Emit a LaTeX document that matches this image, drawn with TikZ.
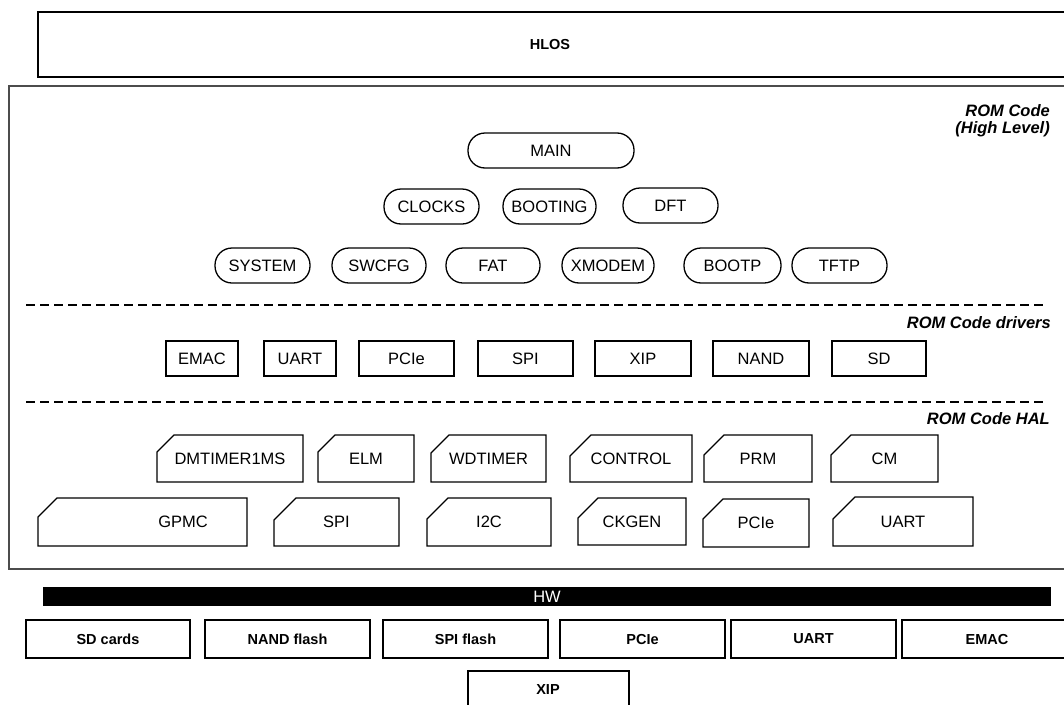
\documentclass[tikz,border=0pt]{standalone}
\usepackage{fontspec}
\setmainfont{Liberation Sans}
\begin{document}
\begin{tikzpicture}[x=1pt,y=-1pt,
  every node/.style={font=\fontsize{16.5}{18}\selectfont},
  txt/.style={inner sep=0pt},
  boldtxt/.style={inner sep=0pt,font=\fontsize{14.5}{16}\selectfont\bfseries},
  tagtxt/.style={inner sep=0pt,anchor=east,font=\fontsize{16.5}{18}\selectfont\bfseries\itshape},
  pill/.style={draw,line width=1.3pt,rounded corners=17pt,inner sep=0pt},
  drv/.style={draw,line width=1.3pt,inner sep=0pt},
  halline/.style={draw,line width=1.3pt},
  hwbox/.style={draw,line width=1.5pt,inner sep=0pt,font=\fontsize{14.5}{16}\selectfont\bfseries},
  sep/.style={line width=2pt,dash pattern=on 9pt off 5pt},
]
\clip (0,0) rectangle (1064,704);
\fill[white] (0,0) rectangle (1064,704);

\newcommand\pillbox[6]{\node[pill,minimum width={(#3-#2)*1pt},minimum height={(#5-#4)*1pt}] (#1) at ({(#2+#3)/2},{(#4+#5)/2}) {#6};}
\newcommand\drvbox[6]{\node[drv,minimum width={(#3-#2)*1pt},minimum height={(#5-#4)*1pt}] (#1) at ({(#2+#3)/2},{(#4+#5)/2}) {#6};}
\newcommand\hwb[6]{\node[hwbox,minimum width={(#3-#2)*1pt},minimum height={(#5-#4)*1pt}] (#1) at ({(#2+#3)/2},{(#4+#5)/2}) {#6};}
\newcommand\halbox[8]{%
  \draw[halline] (#2+#8,#4) -- (#3,#4) -- (#3,#5) -- (#2,#5) -- (#2,#4+#8) -- cycle;
  \node[txt] (#1) at (#6,{(#4+#5)/2}) {#7};}

% HLOS
\node[draw,line width=1.5pt,minimum width=1040pt,minimum height=65pt,inner sep=0pt] (hlos) at (558,44.5) {};
\node[boldtxt] (hlostxt) at (550,44.5) {HLOS};

% ROM code container
\node[draw=black!70,line width=1.6pt,minimum width=1070pt,minimum height=483pt,inner sep=0pt] (rom) at (544,327.5) {};
\node[tagtxt] (tag1) at (1050,111) {ROM Code};
\node[tagtxt] (tag2) at (1050,129) {(High Level)};

% High level
\pillbox{main}{468}{634}{133}{168}{MAIN}
\pillbox{clocks}{384}{479}{189}{224}{CLOCKS}
\pillbox{booting}{503}{596}{189}{224}{BOOTING}
\pillbox{dft}{623}{718}{188}{223}{DFT}
\pillbox{system}{215}{310}{248}{283}{SYSTEM}
\pillbox{swcfg}{332}{426}{248}{283}{SWCFG}
\pillbox{fat}{446}{540}{248}{283}{FAT}
\pillbox{xmodem}{562}{654}{248}{283}{XMODEM}
\pillbox{bootp}{684}{781}{248}{283}{BOOTP}
\pillbox{tftp}{792}{887}{248}{283}{TFTP}

% separator 1
\coordinate (s1a) at (26,305);
\coordinate (s1b) at (1047,305);
\draw[sep] (s1a) -- (s1b);
\node[tagtxt] (tag3) at (1051,323) {ROM Code drivers};

% drivers
\drvbox{demac}{166}{238}{341}{376}{EMAC}
\drvbox{duart}{264}{336}{341}{376}{UART}
\drvbox{dpcie}{359}{454}{341}{376}{PCIe}
\drvbox{dspi}{478}{573}{341}{376}{SPI}
\drvbox{dxip}{595}{691}{341}{376}{XIP}
\drvbox{dnand}{713}{809}{341}{376}{NAND}
\drvbox{dsd}{832}{926}{341}{376}{SD}

% separator 2
\coordinate (s2a) at (26,402);
\coordinate (s2b) at (1047,402);
\draw[sep] (s2a) -- (s2b);
\node[tagtxt] (tag4) at (1050,419) {ROM Code HAL};

% HAL row 1
\halbox{hdm}{157}{303}{435}{482}{230}{DMTIMER1MS}{17}
\halbox{helm}{318}{414}{435}{482}{366}{ELM}{17}
\halbox{hwd}{431}{546}{435}{482}{488.5}{WDTIMER}{18}
\halbox{hctl}{570}{692}{435}{482}{631}{CONTROL}{21}
\halbox{hprm}{704}{812}{435}{482}{758}{PRM}{20}
\halbox{hcm}{831}{938}{435}{482}{884.5}{CM}{20}
% HAL row 2
\halbox{hgpmc}{38}{247}{498}{546}{183}{GPMC}{19}
\halbox{hspi}{274}{399}{498}{546}{336.5}{SPI}{22}
\halbox{hi2c}{427}{551}{498}{546}{489}{I2C}{21}
\halbox{hck}{578}{686}{498}{545}{632}{CKGEN}{20}
\halbox{hpcie}{703}{809}{499}{547}{756}{PCIe}{20}
\halbox{huart}{833}{973}{497}{546}{903}{UART}{22}

% HW bar
\node[fill=black,minimum width=1008pt,minimum height=19pt,inner sep=0pt,text=white] (hw) at (547,596.5) {HW};

% hardware boxes
\hwb{sdc}{26}{190}{620}{658}{SD cards}
\hwb{nand}{205}{370}{620}{658}{NAND flash}
\hwb{spif}{383}{548}{620}{658}{SPI flash}
\hwb{pcie}{560}{725}{620}{658}{PCIe}
\hwb{uart}{731}{896}{620}{658}{UART}
\hwb{emac}{902}{1072}{620}{658}{EMAC}
\hwb{xip}{468}{629}{671}{711}{}
\node[boldtxt] (xiptxt) at (548,690) {XIP};
\end{tikzpicture}
\end{document}
